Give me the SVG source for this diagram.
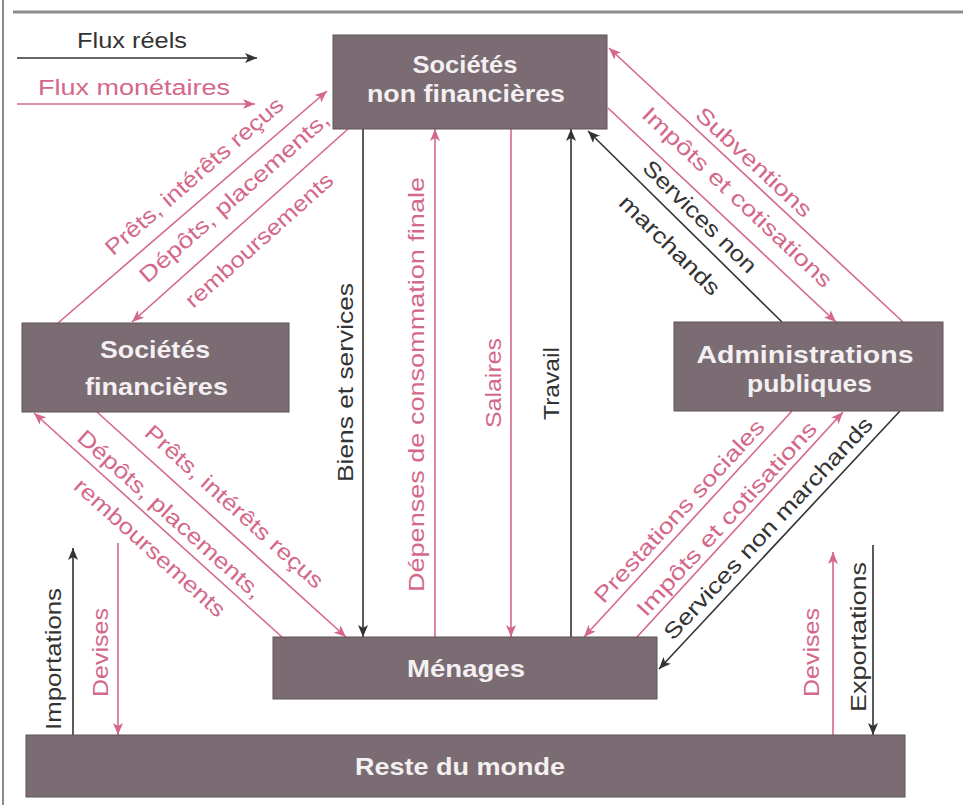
<svg xmlns="http://www.w3.org/2000/svg" width="963" height="805" viewBox="0 0 963 805">
<style>
  .box { fill: #7a6c72; stroke: #5f5358; stroke-width: 1; }
  .bt { font-family: "Liberation Sans Narrow", "Liberation Sans", Arial, sans-serif; font-weight: bold; font-size: 24px; fill: #f4f0f2; text-anchor: middle; }
  .lbl { font-family: "Liberation Sans Narrow", "Liberation Sans", Arial, sans-serif; font-size: 22px; text-anchor: middle; }
  .k { fill: #333333; }
  .p { fill: #d4688a; }
  .ck { stroke: #333333; stroke-width: 1.6; fill: none; marker-end: url(#ak); }
  .cp { stroke: #d4688a; stroke-width: 1.6; fill: none; marker-end: url(#ap); }
  .frame { stroke: #8c8c8c; fill: none; }
</style>
<defs>
  <marker id="ak" viewBox="0 0 12 10" refX="12" refY="5" markerWidth="13" markerHeight="10" markerUnits="userSpaceOnUse" orient="auto">
    <path d="M0,0 L12,5 L0,10 L3,5 z" fill="#333333"/>
  </marker>
  <marker id="ap" viewBox="0 0 12 10" refX="12" refY="5" markerWidth="13" markerHeight="10" markerUnits="userSpaceOnUse" orient="auto">
    <path d="M0,0 L12,5 L0,10 L3,5 z" fill="#d4688a"/>
  </marker>
</defs>
<rect x="0" y="0" width="963" height="805" fill="#ffffff"/>
<line class="frame" x1="13" y1="12" x2="963" y2="12" stroke-width="3"/>
<line class="frame" x1="3" y1="0" x2="3" y2="805" stroke-width="2"/>

<g id="legend">
  <text class="lbl k" x="132" y="48" textLength="110" lengthAdjust="spacingAndGlyphs">Flux réels</text>
  <line class="ck" x1="17" y1="58" x2="257" y2="58"/>
  <text class="lbl p" x="134" y="95" textLength="192" lengthAdjust="spacingAndGlyphs">Flux monétaires</text>
  <line class="cp" x1="17" y1="104" x2="255" y2="104"/>
</g>

<g id="connectors">
  <!-- SF <-> SNF -->
  <line class="cp" x1="58" y1="323" x2="327" y2="91"/>
  <line class="cp" x1="348" y1="129" x2="132" y2="322"/>
  <!-- SNF <-> Ménages -->
  <line class="ck" x1="363" y1="129" x2="363" y2="637"/>
  <line class="cp" x1="435" y1="637" x2="435" y2="129"/>
  <line class="cp" x1="511" y1="129" x2="511" y2="637"/>
  <line class="ck" x1="571" y1="637" x2="571" y2="129"/>
  <!-- SNF <-> AP -->
  <line class="cp" x1="903" y1="322" x2="609" y2="48"/>
  <line class="cp" x1="608" y1="108" x2="836" y2="322"/>
  <line class="ck" x1="782" y1="322" x2="588" y2="131"/>
  <!-- SF <-> Ménages -->
  <line class="cp" x1="97" y1="412" x2="346" y2="637"/>
  <line class="cp" x1="282" y1="637" x2="34" y2="413"/>
  <!-- AP <-> Ménages -->
  <line class="cp" x1="792" y1="411" x2="584" y2="637"/>
  <line class="cp" x1="637" y1="637" x2="843" y2="412"/>
  <line class="ck" x1="900" y1="411" x2="659" y2="669"/>
  <!-- RdM -->
  <line class="ck" x1="73" y1="735" x2="73" y2="548"/>
  <line class="cp" x1="118" y1="543" x2="118" y2="735"/>
  <line class="cp" x1="833" y1="735" x2="833" y2="552"/>
  <line class="ck" x1="873" y1="545" x2="873" y2="735"/>
</g>

<g id="labels">
  <text class="lbl p" transform="translate(194,176) rotate(-41)" dy="0.35em" textLength="228" lengthAdjust="spacingAndGlyphs">Prêts, intérêts reçus</text>
  <text class="lbl p" transform="translate(234,197) rotate(-41.5)" dy="0.35em" textLength="245" lengthAdjust="spacingAndGlyphs">Dépôts, placements,</text>
  <text class="lbl p" transform="translate(259,240) rotate(-41.8)" dy="0.35em" textLength="190" lengthAdjust="spacingAndGlyphs">remboursements</text>

  <text class="lbl k" transform="translate(345,382.5) rotate(-90)" dy="0.35em" textLength="199" lengthAdjust="spacingAndGlyphs">Biens et services</text>
  <text class="lbl p" transform="translate(416,384.5) rotate(-90)" dy="0.35em" textLength="415" lengthAdjust="spacingAndGlyphs">Dépenses de consommation finale</text>
  <text class="lbl p" transform="translate(493,383) rotate(-90)" dy="0.35em" textLength="90" lengthAdjust="spacingAndGlyphs">Salaires</text>
  <text class="lbl k" transform="translate(551,383.5) rotate(-90)" dy="0.35em" textLength="73" lengthAdjust="spacingAndGlyphs">Travail</text>

  <text class="lbl p" transform="translate(754,162) rotate(43)" dy="0.35em" textLength="150" lengthAdjust="spacingAndGlyphs">Subventions</text>
  <text class="lbl p" transform="translate(737.5,197) rotate(43.3)" dy="0.35em" textLength="252" lengthAdjust="spacingAndGlyphs">Impôts et cotisations</text>
  <text class="lbl k" transform="translate(700,216.5) rotate(44.6)" dy="0.35em" textLength="150" lengthAdjust="spacingAndGlyphs">Services non</text>
  <text class="lbl k" transform="translate(670,245) rotate(44.6)" dy="0.35em" textLength="132" lengthAdjust="spacingAndGlyphs">marchands</text>

  <text class="lbl p" transform="translate(234.5,506.5) rotate(42)" dy="0.35em" textLength="232" lengthAdjust="spacingAndGlyphs">Prêts, intérêts reçus</text>
  <text class="lbl p" transform="translate(170,514) rotate(42)" dy="0.35em" textLength="240" lengthAdjust="spacingAndGlyphs">Dépôts, placements,</text>
  <text class="lbl p" transform="translate(150,547.5) rotate(42)" dy="0.35em" textLength="195" lengthAdjust="spacingAndGlyphs">remboursements</text>

  <text class="lbl p" transform="translate(679,511) rotate(-47.4)" dy="0.35em" textLength="240" lengthAdjust="spacingAndGlyphs">Prestations sociales</text>
  <text class="lbl p" transform="translate(726.5,518.5) rotate(-47.5)" dy="0.35em" textLength="255" lengthAdjust="spacingAndGlyphs">Impôts et cotisations</text>
  <text class="lbl k" transform="translate(768,528) rotate(-47)" dy="0.35em" textLength="295" lengthAdjust="spacingAndGlyphs">Services non marchands</text>

  <text class="lbl k" transform="translate(53,659) rotate(-90)" dy="0.35em" textLength="142" lengthAdjust="spacingAndGlyphs">Importations</text>
  <text class="lbl p" transform="translate(100,652.5) rotate(-90)" dy="0.35em" textLength="89" lengthAdjust="spacingAndGlyphs">Devises</text>
  <text class="lbl p" transform="translate(811.5,652.5) rotate(-90)" dy="0.35em" textLength="89" lengthAdjust="spacingAndGlyphs">Devises</text>
  <text class="lbl k" transform="translate(858.5,637) rotate(-90)" dy="0.35em" textLength="150" lengthAdjust="spacingAndGlyphs">Exportations</text>
</g>

<g id="snf">
  <rect class="box" x="333" y="35" width="274" height="94"/>
  <text class="bt" x="465" y="73" textLength="105" lengthAdjust="spacingAndGlyphs">Sociétés</text>
  <text class="bt" x="466" y="102" textLength="198" lengthAdjust="spacingAndGlyphs">non financières</text>
</g>
<g id="sf">
  <rect class="box" x="22" y="323" width="267" height="89"/>
  <text class="bt" x="155" y="358" textLength="110" lengthAdjust="spacingAndGlyphs">Sociétés</text>
  <text class="bt" x="156.5" y="395" textLength="143" lengthAdjust="spacingAndGlyphs">financières</text>
</g>
<g id="ap">
  <rect class="box" x="674" y="322" width="269" height="89"/>
  <text class="bt" x="805" y="363" textLength="217" lengthAdjust="spacingAndGlyphs">Administrations</text>
  <text class="bt" x="809.5" y="392" textLength="125" lengthAdjust="spacingAndGlyphs">publiques</text>
</g>
<g id="menages">
  <rect class="box" x="273" y="637" width="384" height="62"/>
  <text class="bt" x="466" y="677" textLength="118" lengthAdjust="spacingAndGlyphs">Ménages</text>
</g>
<g id="rdm">
  <rect class="box" x="26" y="735" width="879" height="62"/>
  <text class="bt" x="460" y="775" textLength="210" lengthAdjust="spacingAndGlyphs">Reste du monde</text>
</g>
</svg>
